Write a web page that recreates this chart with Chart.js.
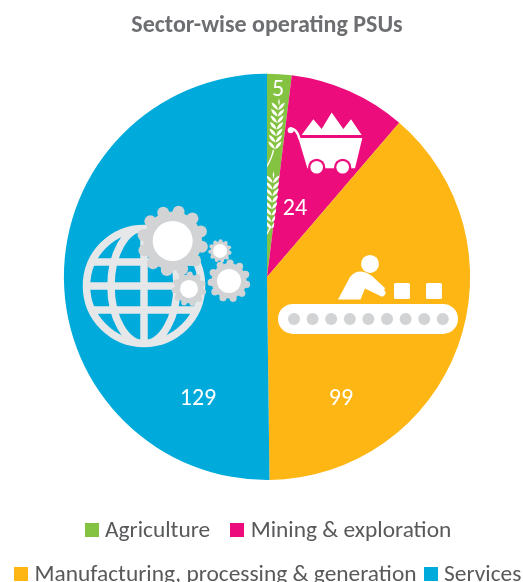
<!DOCTYPE html>
<html><head><meta charset="utf-8">
<style>html,body{margin:0;padding:0;background:#fff;overflow:hidden}canvas{display:block}</style>
<script src="https://cdn.jsdelivr.net/npm/chart.js@4/dist/chart.umd.min.js"></script>
</head><body><canvas id="c" width="534" height="596"></canvas>
<script>
const categories=["Agriculture","Mining & exploration","Manufacturing, processing & generation","Services"];
const psuCounts=[5,24,99,129];
const sliceColours=["#84C341","#EC0C7B","#FDB614","#00ABDC"];
const chartTitle="Sector-wise operating PSUs";
const labelOffsets=[[11,-187],[28,-68],[74,122],[-69,122]];
const FONT="Carlito, Lato, sans-serif";

function leaf(ctx,x,y,len,wid,ang){ctx.save();ctx.translate(x,y);ctx.rotate(ang);ctx.beginPath();ctx.moveTo(0,0);
 ctx.quadraticCurveTo(len/2,-wid,len,0);ctx.quadraticCurveTo(len/2,wid,0,0);ctx.fill();ctx.restore();}
function wheatHead(ctx,x,yTop,yBot,lean){
 for(let y=yTop+4;y<yBot;y+=6.5){const t=(y-yTop)/(yBot-yTop),sx=x-lean*t;
  leaf(ctx,sx,y+5,10,3,-2.3);leaf(ctx,sx,y+5,10,3,-0.85);}
 leaf(ctx,x+0.5,yTop+5,8,1.6,-1.57);
}
function gear(ctx,x,y,rOut,rHole,teeth,col){
 ctx.fillStyle=col;const rBase=rOut*0.84,w=rOut*(0.30);
 ctx.beginPath();ctx.arc(x,y,rBase,0,7);ctx.fill();
 for(let i=0;i<teeth;i++){const a=i/teeth*Math.PI*2+0.2;
  ctx.beginPath();ctx.arc(x+Math.cos(a)*(rOut-w/2),y+Math.sin(a)*(rOut-w/2),w/1.75,0,7);ctx.fill();}
 ctx.fillStyle="#fff";ctx.beginPath();ctx.arc(x,y,rHole,0,7);ctx.fill();
}
function drawGlobe(ctx){
 const x=144,y=286,r=61;ctx.save();ctx.strokeStyle="#E6E7E8";ctx.lineWidth=7.5;
 ctx.beginPath();ctx.arc(x,y,r-3.5,0,7);ctx.stroke();
 ctx.save();ctx.beginPath();ctx.arc(x,y,r-1,0,7);ctx.clip();
 ctx.beginPath();ctx.moveTo(x,y-r);ctx.lineTo(x,y+r);
 ctx.moveTo(x-r,y);ctx.lineTo(x+r,y);
 ctx.moveTo(x-r,y-24);ctx.lineTo(x+r,y-24);
 ctx.moveTo(x-r,y+24);ctx.lineTo(x+r,y+24);ctx.stroke();
 ctx.beginPath();ctx.ellipse(x,y,33,r-3,0,0,7);ctx.stroke();ctx.restore();ctx.restore();
 gear(ctx,172.7,241,35,20,12,"#D1D3D4");
 gear(ctx,229,281,21,12,11,"#D1D3D4");
 gear(ctx,189,289,17,9,11,"#D1D3D4");
 gear(ctx,220,251,11.5,7,11,"#D1D3D4");
}
function drawFactory(ctx){
 ctx.save();ctx.fillStyle="#fff";
 ctx.beginPath();ctx.roundRect(278,304,180,30,15);ctx.fill();
 ctx.fillStyle="#D1D3D4";
 for(let i=0;i<9;i++){ctx.beginPath();ctx.arc(294+i*18.6,319,6,0,7);ctx.fill();}
 ctx.fillStyle="#fff";
 ctx.beginPath();ctx.arc(370,264,9,0,7);ctx.fill();
 ctx.beginPath();ctx.roundRect(394,283,16,16,1.5);ctx.fill();
 ctx.beginPath();ctx.roundRect(426,283,16,16,1.5);ctx.fill();
 ctx.beginPath();ctx.moveTo(338,299.5);ctx.lineTo(350,277);ctx.quadraticCurveTo(356,270,364,272);
 ctx.quadraticCurveTo(368,273,372,276);ctx.lineTo(385,288);ctx.arc(382,293,3.5,-0.9,2.2);
 ctx.lineTo(365,288.5);ctx.lineTo(360.5,299.5);ctx.closePath();ctx.fill();
 ctx.restore();
}
function drawCart(ctx){
 const X=v=>250+v/3,Y=v=>70+v/3;
 ctx.save();ctx.fillStyle="#fff";ctx.strokeStyle="#fff";
 ctx.beginPath();[[155,195],[190,148],[215,177],[245,128],[280,177],[303,148],[335,195]].forEach((p,i)=>i?ctx.lineTo(X(p[0]),Y(p[1])):ctx.moveTo(X(p[0]),Y(p[1])));ctx.closePath();ctx.fill();
 ctx.beginPath();[[145,204],[337,204],[315,295],[172,295]].forEach((p,i)=>i?ctx.lineTo(X(p[0]),Y(p[1])):ctx.moveTo(X(p[0]),Y(p[1])));ctx.closePath();ctx.fill();
 ctx.lineWidth=2.6;ctx.lineCap="round";
 ctx.beginPath();ctx.moveTo(X(122),Y(176));ctx.quadraticCurveTo(X(140),Y(176),X(148),Y(205));ctx.stroke();
 ctx.beginPath();ctx.arc(X(122),Y(181),3,0,7);ctx.fill();
 [200,278].forEach(w=>{ctx.fillStyle="#EC0C7B";ctx.beginPath();ctx.arc(X(w),Y(292),8.6,0,7);ctx.fill();
  ctx.fillStyle="#fff";ctx.beginPath();ctx.arc(X(w),Y(292),6.3,0,7);ctx.fill();});
 ctx.restore();
}
function drawWheat(ctx){
 ctx.save();ctx.beginPath();ctx.moveTo(267,277);ctx.lineTo(267,70);ctx.lineTo(295,70);ctx.closePath();ctx.clip();
 ctx.fillStyle="#fff";ctx.strokeStyle="#fff";ctx.lineWidth=1.4;
 wheatHead(ctx,278.5,101,150,4);
 ctx.beginPath();ctx.moveTo(273.5,150);ctx.quadraticCurveTo(272,158,266,168);ctx.stroke();
 wheatHead(ctx,273,174,226,2);
 ctx.beginPath();ctx.moveTo(271,226);ctx.lineTo(267,234);ctx.stroke();
 ctx.restore();
}
const decorations={id:"decorations",
 afterDatasetsDraw(chart){
  const {ctx}=chart,arcs=chart.getDatasetMeta(0).data,cx=arcs[0].x,cy=arcs[0].y;
  ctx.save();ctx.translate(cx-267,cy-277);
  drawWheat(ctx);drawCart(ctx);drawFactory(ctx);drawGlobe(ctx);
  ctx.restore();
  ctx.save();ctx.fillStyle="#fff";ctx.font="24px "+FONT;ctx.textAlign="center";ctx.textBaseline="middle";
  psuCounts.forEach((v,i)=>ctx.fillText(String(v),cx+labelOffsets[i][0],cy+labelOffsets[i][1]));
  ctx.restore();
 }};
const legendRows=[{y:530,items:[[0,85,105],[1,230,250.7]]},{y:574,items:[[2,14,34.5],[3,424,444]]}];
const keyLegend={id:"keyLegend",
 afterDraw(chart){
  const {ctx}=chart;ctx.save();ctx.font="23.4px "+FONT;ctx.textBaseline="middle";
  legendRows.forEach(r=>r.items.forEach(([i,bx,tx])=>{
    ctx.fillStyle=sliceColours[i];ctx.fillRect(bx,r.y-7,14,14);
    ctx.fillStyle="#58595B";ctx.fillText(categories[i],tx,r.y+1);}));
  ctx.restore();
 }};
new Chart(document.getElementById("c"),{type:"pie",
 data:{labels:categories,datasets:[{data:psuCounts,backgroundColor:sliceColours,borderWidth:0}]},
 options:{responsive:false,animation:false,
  layout:{padding:{top:0,bottom:116,left:0,right:0}},
  plugins:{tooltip:{enabled:false},legend:{display:false},
   title:{display:true,text:chartTitle,color:"#6D6E71",font:{family:FONT,size:24,weight:"bold"},padding:{top:11.5,bottom:33.5}}}},
 plugins:[decorations,keyLegend]});
</script></body></html>
